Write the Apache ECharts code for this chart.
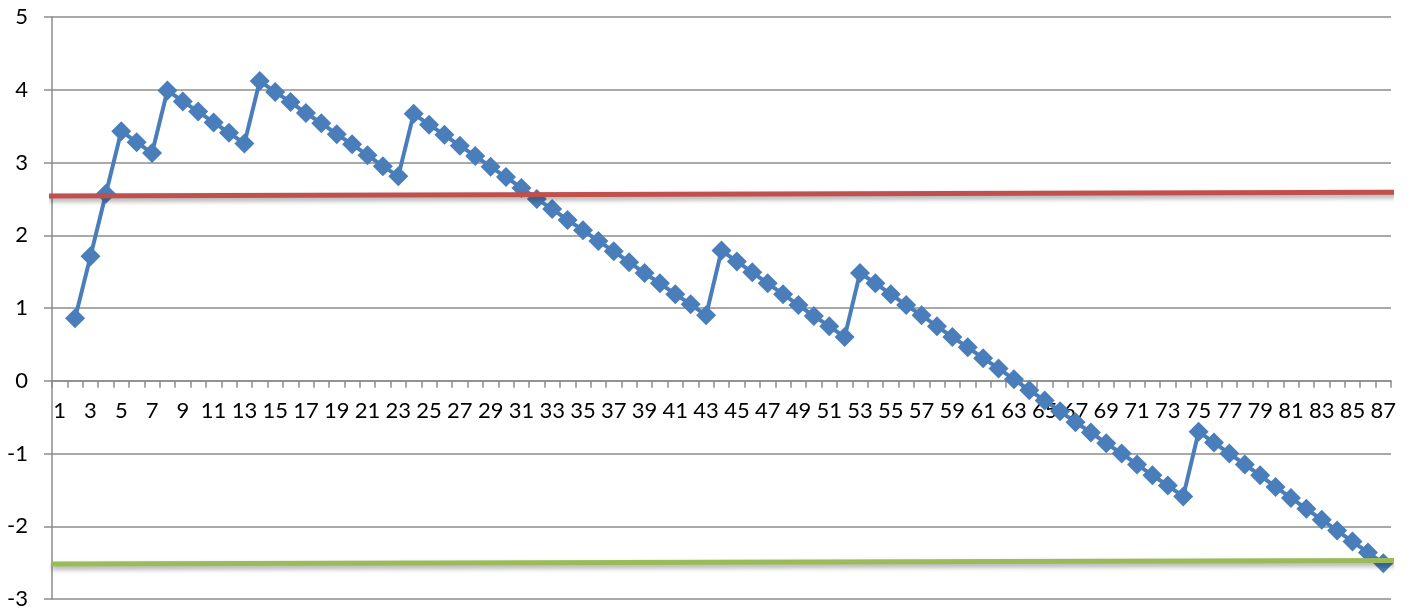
<!DOCTYPE html>
<html>
<head>
<meta charset="utf-8">
<script src="https://cdn.jsdelivr.net/npm/echarts@6/dist/echarts.min.js"></script>
<style>
html,body{margin:0;padding:0;background:#fff;}
#chart{width:1414px;height:614px;}
</style>
</head>
<body>
<div id="chart"></div>
<script>
const categories = ['1','2','3','4','5','6','7','8','9','10','11','12','13','14','15','16','17','18','19','20',
'21','22','23','24','25','26','27','28','29','30','31','32','33','34','35','36','37','38','39','40',
'41','42','43','44','45','46','47','48','49','50','51','52','53','54','55','56','57','58','59','60',
'61','62','63','64','65','66','67','68','69','70','71','72','73','74','75','76','77','78','79','80',
'81','82','83','84','85','86','87'];

const blueValues = [null, 0.86, 1.71, 2.57, 3.43, 3.28, 3.13, 3.99, 3.84, 3.70,
3.55, 3.41, 3.26, 4.12, 3.97, 3.83, 3.68, 3.54, 3.39, 3.25,
3.10, 2.95, 2.81, 3.67, 3.52, 3.38, 3.23, 3.09, 2.94, 2.80,
2.65, 2.50, 2.36, 2.21, 2.07, 1.92, 1.78, 1.63, 1.48, 1.34,
1.19, 1.05, 0.90, 1.79, 1.64, 1.49, 1.34, 1.19, 1.04, 0.89,
0.75, 0.60, 1.48, 1.34, 1.19, 1.04, 0.90, 0.75, 0.60, 0.46,
0.31, 0.17, 0.02, -0.13, -0.27, -0.42, -0.57, -0.71, -0.86, -1.00,
-1.15, -1.30, -1.44, -1.59, -0.70, -0.85, -1.00, -1.15, -1.30, -1.46,
-1.61, -1.76, -1.91, -2.06, -2.21, -2.36, -2.51];

// horizontal reference lines: [start, end] on a 0..1 span across the plot
const redLine = [[-0.0025, 2.54], [1.0045, 2.59]];
const greenLine = [[0, -2.52], [1.0075, -2.47]];

const yMin = -3, yMax = 5, yStep = 1;

const chart = echarts.init(document.getElementById('chart'), null, {renderer: 'canvas'});
const labelFont = {fontFamily: 'Lato', fontSize: 22, color: '#000'};
chart.setOption({
  animation: false,
  backgroundColor: '#fff',
  grid: {left: 52, right: 23, top: 17, bottom: 15, containLabel: false, outerBoundsMode: 'none'},
  xAxis: [{
    type: 'category',
    data: categories,
    boundaryGap: true,
    axisLine: {show: true, onZero: true, lineStyle: {color: '#8c8c8c', width: 1.5}},
    axisTick: {show: true, length: 7, interval: 0, alignWithLabel: false, lineStyle: {color: '#8c8c8c', width: 1.5}},
    axisLabel: Object.assign({interval: 1, margin: -199, verticalAlign: 'top'}, labelFont),
    splitLine: {show: false}
  }, {
    type: 'value',
    position: 'top',
    min: 0, max: 1,
    show: false,
    axisLine: {onZero: false}
  }],
  yAxis: {
    type: 'value',
    min: yMin, max: yMax, interval: yStep,
    axisLine: {show: true, onZero: false, lineStyle: {color: '#8c8c8c', width: 1.5}},
    axisTick: {show: true, length: 8, lineStyle: {color: '#8c8c8c', width: 1.5}},
    axisLabel: Object.assign({margin: 24}, labelFont),
    splitLine: {show: true, lineStyle: {color: '#8c8c8c', width: 1.5}}
  },
  series: [{
    type: 'line',
    data: blueValues,
    xAxisIndex: 0,
    symbol: 'diamond',
    symbolSize: 20,
    showSymbol: true,
    showAllSymbol: true,
    connectNulls: false,
    lineStyle: {color: '#4A7EBB', width: 4},
    itemStyle: {color: '#4A7EBB'},
    z: 2
  }, {
    type: 'line',
    xAxisIndex: 1,
    data: redLine,
    symbol: 'none',
    clip: false,
    lineStyle: {color: '#C0504D', width: 5, shadowColor: 'rgba(0,0,0,0.35)', shadowBlur: 5, shadowOffsetY: 3},
    z: 3
  }, {
    type: 'line',
    xAxisIndex: 1,
    data: greenLine,
    symbol: 'none',
    clip: false,
    lineStyle: {color: '#9BBB59', width: 5, shadowColor: 'rgba(0,0,0,0.35)', shadowBlur: 5, shadowOffsetY: 3},
    z: 3
  }]
});
</script>
</body>
</html>
